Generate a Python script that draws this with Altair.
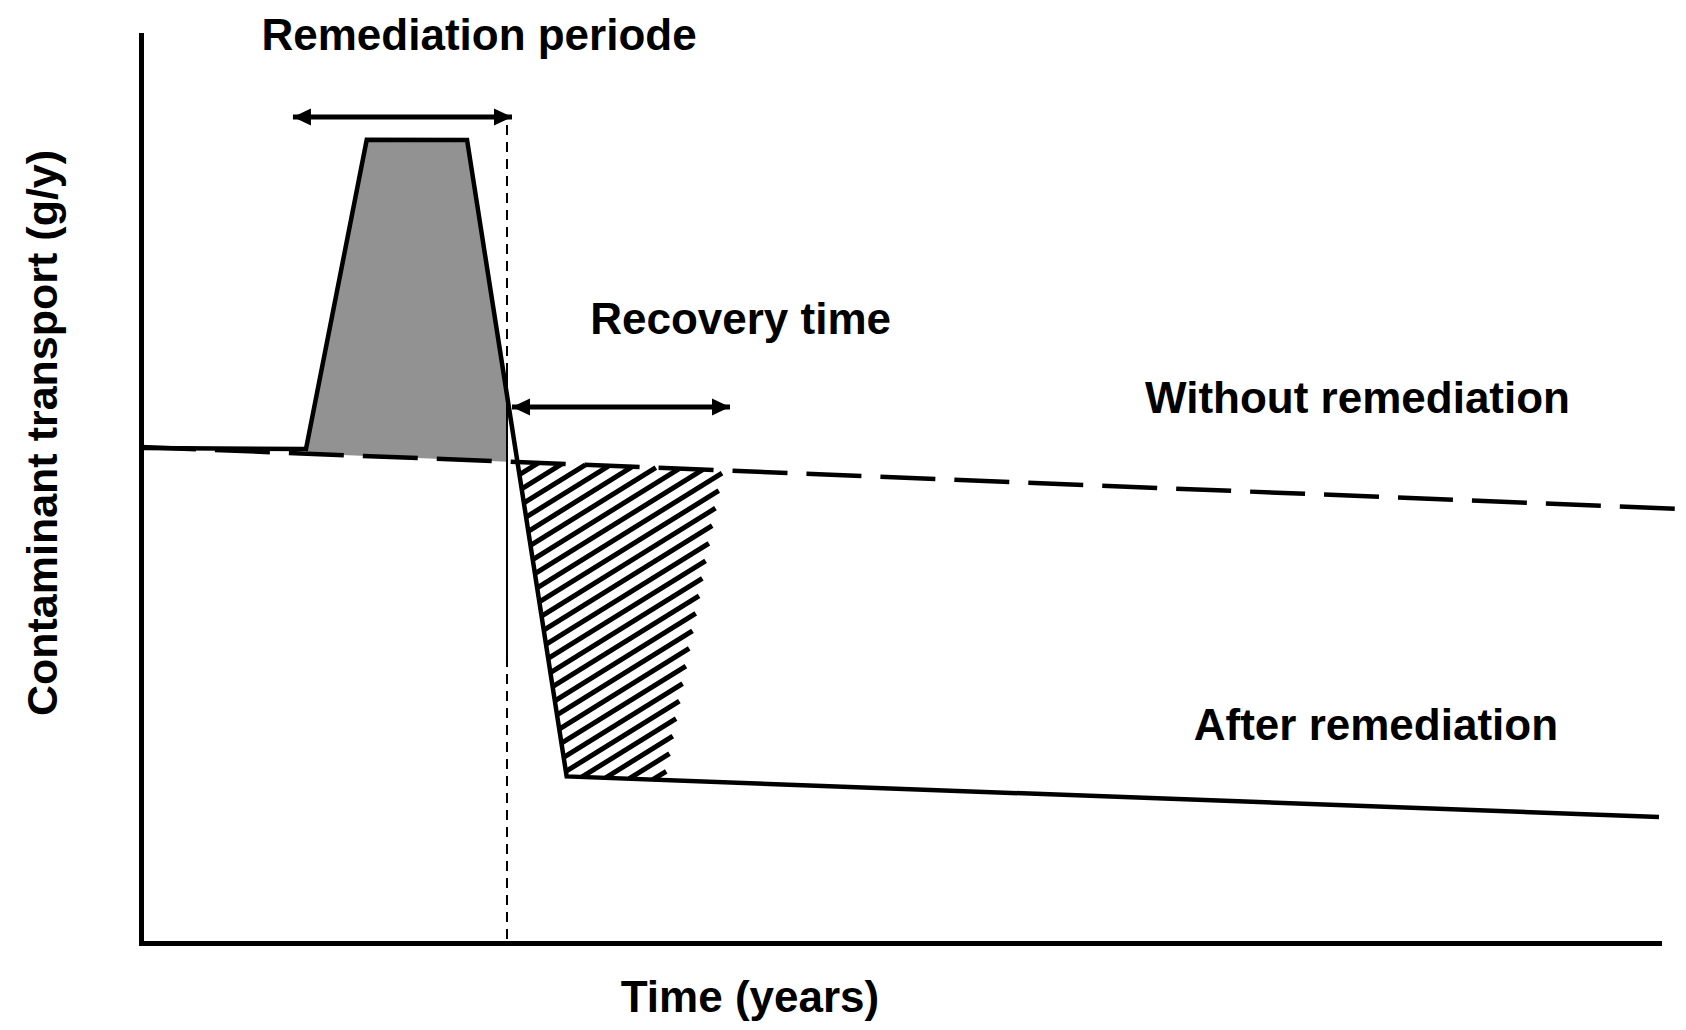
import altair as alt
import pandas as pd
import numpy as np

# ---------------- data (conceptual units, axes run 0..100) ----------------
# solid curve ("After remediation")
solid_x = [0.0, 10.87, 14.87, 21.48, 28.04, 100.0]
solid_y = [54.52, 54.41, 88.46, 88.44, 18.35, 13.88]

# dashed trend ("Without remediation")
dashed_x = [0.0, 101.45]
dashed_y = [54.63, 47.80]

# end of remediation period (vertical marker)
remed_end_x = 24.11
vline_top = [90.09, 63.11, 31.50]
vline_bottom = [63.11, 31.50, 0.0]
vline_style = ["dashed", "solid", "dashed"]

# grey (remediation) area x positions
grey_x = [10.87, 14.87, 21.48, 24.11]

# hatched (recovery) area right edge
hatch_right_top_x = 38.31
hatch_right_bottom_x = 34.49

# double arrows
arrow_x1 = [10.01, 24.44]
arrow_x2 = [24.44, 38.80]
arrow_y = [90.97, 59.03]

# labels
label_text = ["Remediation periode", "Recovery time", "Without remediation", "After remediation"]
label_x = [22.27, 39.50, 80.14, 81.35]
label_y = [98.40, 67.03, 58.38, 22.38]

# ---------------- layout ----------------
W, H = 1518, 908
FONT = "Liberation Sans"
PX_X = W / 100.0
PX_Y = H / 100.0

xs = alt.Scale(domain=[0, 100], nice=False, zero=False)
ys = alt.Scale(domain=[0, 100], nice=False, zero=False)

xaxis = alt.Axis(title="Time (years)", ticks=False, labels=False, grid=False,
                 domainColor="black", domainWidth=5, domainCap="square",
                 titleX=608.5, titleY=68, titleAlign="center", titleBaseline="alphabetic",
                 titleFont=FONT, titleFontSize=44, titleFontWeight="bold", titleColor="black")
yaxis = alt.Axis(title="Contaminant transport (g/y)", ticks=False, labels=False, grid=False,
                 domainColor="black", domainWidth=5, domainCap="square",
                 titleAngle=270, titleX=-85, titleY=397.5, titleAlign="center",
                 titleBaseline="alphabetic",
                 titleFont=FONT, titleFontSize=43, titleFontWeight="bold", titleColor="black")


def X(f="x"):
    return alt.X(f, type="quantitative", scale=xs, axis=xaxis)


def Y(f="y"):
    return alt.Y(f, type="quantitative", scale=ys, axis=yaxis)


def solid(x):
    return float(np.interp(x, solid_x, solid_y))


def dashed(x):
    return float(np.interp(x, dashed_x, dashed_y))


# grey area
grey_df = pd.DataFrame({"x": grey_x,
                        "y": [solid(v) for v in grey_x],
                        "y2": [dashed(v) for v in grey_x]})

# hatched polygon
ax, ay, bx, by = solid_x[3], solid_y[3], solid_x[4], solid_y[4]
fa = ay - dashed(ax)
fb = by - dashed(bx)
t = fa / (fa - fb)
tl = (ax + t * (bx - ax), ay + t * (by - ay))
poly = [tl,
        (hatch_right_top_x, dashed(hatch_right_top_x)),
        (hatch_right_bottom_x, solid(hatch_right_bottom_x)),
        (solid_x[4], solid_y[4])]

m = 0.62 * PX_X / PX_Y          # slope in data units (~32 deg on screen)
step = 15.5 / PX_Y              # vertical spacing of hatch lines
bs = [p[1] - m * p[0] for p in poly]
rows = []
b = min(bs) + step * 0.5
while b < max(bs):
    pts = []
    n = len(poly)
    for i in range(n):
        p, q = poly[i], poly[(i + 1) % n]
        gp = p[1] - m * p[0] - b
        gq = q[1] - m * q[0] - b
        if gp == gq:
            continue
        if (gp <= 0 <= gq) or (gq <= 0 <= gp):
            tt = gp / (gp - gq)
            pts.append((p[0] + tt * (q[0] - p[0]), p[1] + tt * (q[1] - p[1])))
    if len(pts) >= 2:
        pts.sort()
        rows.append({"x": pts[0][0], "y": pts[0][1], "x2": pts[-1][0], "y2": pts[-1][1]})
    b += step
hatch_df = pd.DataFrame(rows)

solid_df = pd.DataFrame({"x": solid_x, "y": solid_y})
dashed_df = pd.DataFrame({"x": dashed_x, "y": dashed_y})
vline_df = pd.DataFrame({"x": [remed_end_x] * 3, "y": vline_top, "y2": vline_bottom, "s": vline_style})
arrow_df = pd.DataFrame({"x": arrow_x1, "x2": arrow_x2, "y": arrow_y})
head_l = pd.DataFrame({"x": arrow_x1, "y": arrow_y})
head_r = pd.DataFrame({"x": arrow_x2, "y": arrow_y})
label_df = pd.DataFrame({"t": label_text, "x": label_x, "y": label_y})

grey = alt.Chart(grey_df).mark_area(color="#929292", opacity=1).encode(x=X(), y=Y(), y2="y2")
hatch = alt.Chart(hatch_df).mark_rule(color="black", strokeWidth=5).encode(
    x=X(), y=Y(), x2="x2", y2="y2")
dash_line = alt.Chart(dashed_df).mark_line(color="black", strokeWidth=4.5, strokeDash=[55, 19]).encode(
    x=X(), y=Y())
solid_line = alt.Chart(solid_df).mark_line(color="black", strokeWidth=4.5, strokeJoin="miter").encode(
    x=X(), y=Y())
vdash = alt.Chart(vline_df).transform_filter(alt.datum.s == "dashed").mark_rule(
    color="black", strokeWidth=2, strokeDash=[10, 7]).encode(x=X(), y=Y(), y2="y2")
vsolid = alt.Chart(vline_df).transform_filter(alt.datum.s == "solid").mark_rule(
    color="black", strokeWidth=2).encode(x=X(), y=Y(), y2="y2")
shafts = alt.Chart(arrow_df).mark_rule(color="black", strokeWidth=5).encode(x=X(), y=Y(), x2="x2")
heads_left = alt.Chart(head_l).mark_point(shape="M0,0L2,-0.95L2,0.95Z", size=324, filled=True,
                                          color="black", opacity=1).encode(x=X(), y=Y())
heads_right = alt.Chart(head_r).mark_point(shape="M0,0L-2,-0.95L-2,0.95Z", size=324, filled=True,
                                           color="black", opacity=1).encode(x=X(), y=Y())
labels = alt.Chart(label_df).mark_text(font=FONT, fontSize=44, fontWeight="bold", color="black",
                                       align="center", baseline="alphabetic").encode(
    x=X(), y=Y(), text="t:N")

chart = alt.layer(grey, hatch, dash_line, solid_line, vdash, vsolid, shafts,
                  heads_left, heads_right, labels).properties(
    width=W, height=H,
    autosize=alt.AutoSizeParams(type="none"),
    padding={"left": 133, "top": 27, "right": 19, "bottom": 79},
).configure(background="white", view=alt.ViewConfig(stroke=None))

chart.save("out.html", embed_options={"renderer": "svg", "actions": False})
